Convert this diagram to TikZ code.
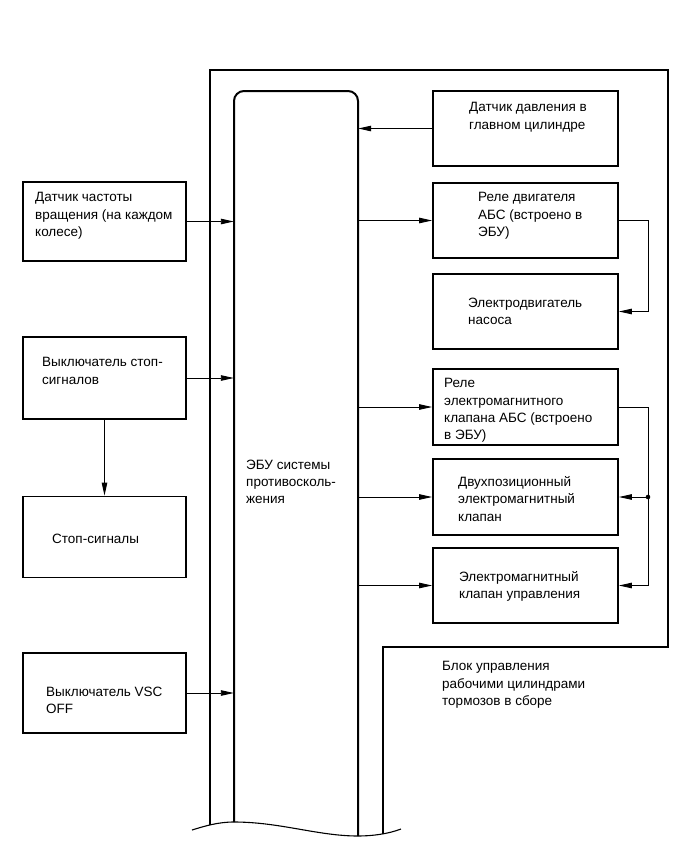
\documentclass[tikz,border=0pt]{standalone}
\usepackage{fontspec}
\setmainfont{Liberation Sans}
\usetikzlibrary{arrows.meta}
\begin{document}
\begin{tikzpicture}[x=1pt,y=-1pt,
  box/.style={draw,line width=1.8pt,minimum width=#1,inner sep=0pt},
  box/.default=163pt,
  txt/.style={anchor=north west,align=left,inner sep=0pt,font=\fontsize{13.5}{17.2}\selectfont},
  conn/.style={line width=0.9pt},
  arr/.style={conn,-{Triangle[length=13pt,width=5.5pt]}},
  frame/.style={line width=1.8pt}]
\useasboundingbox (0,0) rectangle (690,855);
% invisible ECU area
\node[minimum width=124pt,minimum height=740pt,inner sep=0pt] (ecu) at (296,461) {};
% outer frame
\draw[frame] (210,825) -- (210,70) -- (668,70) -- (668,647) -- (383,647) -- (383,834);
% ECU outline
\draw[line width=2pt,rounded corners=10pt] (234,822) -- (234,91) -- (358,91) -- (358,836);
% wave
\draw[line width=1.1pt] (192,830) .. controls (205,826) and (218,822) .. (234,822) .. controls (280,822) and (318,836) .. (358,836) .. controls (372,836) and (388,834) .. (401,829);
% left boxes
\node[box,minimum height=79pt] (l1) at (104.5,221.5) {};
\node[box,minimum height=82pt] (l2) at (104.5,378) {};
\node[box,minimum height=81pt] (l3) at (104.5,537) {};
\node[box,minimum height=80pt] (l4) at (104.5,693) {};
% right boxes
\node[box=185pt,minimum height=75pt] (r1) at (525.5,128.5) {};
\node[box=185pt,minimum height=75pt] (r2) at (525.5,220.5) {};
\node[box=185pt,minimum height=75pt] (r3) at (525.5,311.5) {};
\node[box=185pt,minimum height=76pt] (r4) at (525.5,407) {};
\node[box=185pt,minimum height=76pt] (r5) at (525.5,497) {};
\node[box=185pt,minimum height=75pt] (r6) at (525.5,585.5) {};
% texts
\node[txt] (tl1) at (35,192.5) {Датчик частоты\\вращения (на каждом\\колесе)};
\node[txt] (tl2) at (42,357.5) {Выключатель стоп-\\сигналов};
\node[txt] (tl3) at (52,533.5) {Стоп-сигналы};
\node[txt] (tl4) at (46,686.5) {Выключатель VSC\\OFF};
\node[txt] (tecu) at (246,459.5) {ЭБУ системы\\противосколь-\\жения};
\node[txt] (tr1) at (469,102.5) {Датчик давления в\\главном цилиндре};
\node[txt] (tr2) at (478,192.5) {Реле двигателя\\АБС (встроено в\\ЭБУ)};
\node[txt] (tr3) at (468,297.5) {Электродвигатель\\насоса};
\node[txt] (tr4) at (444,378.5) {Реле\\электромагнитного\\клапана АБС (встроено\\в ЭБУ)};
\node[txt] (tr5) at (458,476.5) {Двухпозиционный\\электромагнитный\\клапан};
\node[txt] (tr6) at (459,571.5) {Электромагнитный\\клапан управления};
\node[txt] (tblk) at (442,661.5) {Блок управления\\рабочими цилиндрами\\тормозов в сборе};
% connectors
\coordinate (bus) at (648,0);
\draw[arr] (l1.east) -- (l1.east -| ecu.west);
\draw[arr] (l2.east) -- (l2.east -| ecu.west);
\draw[arr] (l4.east) -- (l4.east -| ecu.west);
\draw[arr] (l2.south) -- (l3.north);
\draw[arr] (r1.west) -- (r1.west -| ecu.east);
\draw[arr] (r2.west -| ecu.east) -- (r2.west);
\draw[arr] (r4.west -| ecu.east) -- (r4.west);
\draw[arr] (r5.west -| ecu.east) -- (r5.west);
\draw[arr] (r6.west -| ecu.east) -- (r6.west);
\draw[arr] (r2.east) -- (r2.east -| bus) |- (r3.east);
\draw[arr] (r4.east) -- (r4.east -| bus) |- (r6.east);
\draw[arr] (r5.east -| bus) -- (r5.east);
\fill (r5.east -| bus) circle (2.3pt);
\end{tikzpicture}
\end{document}
